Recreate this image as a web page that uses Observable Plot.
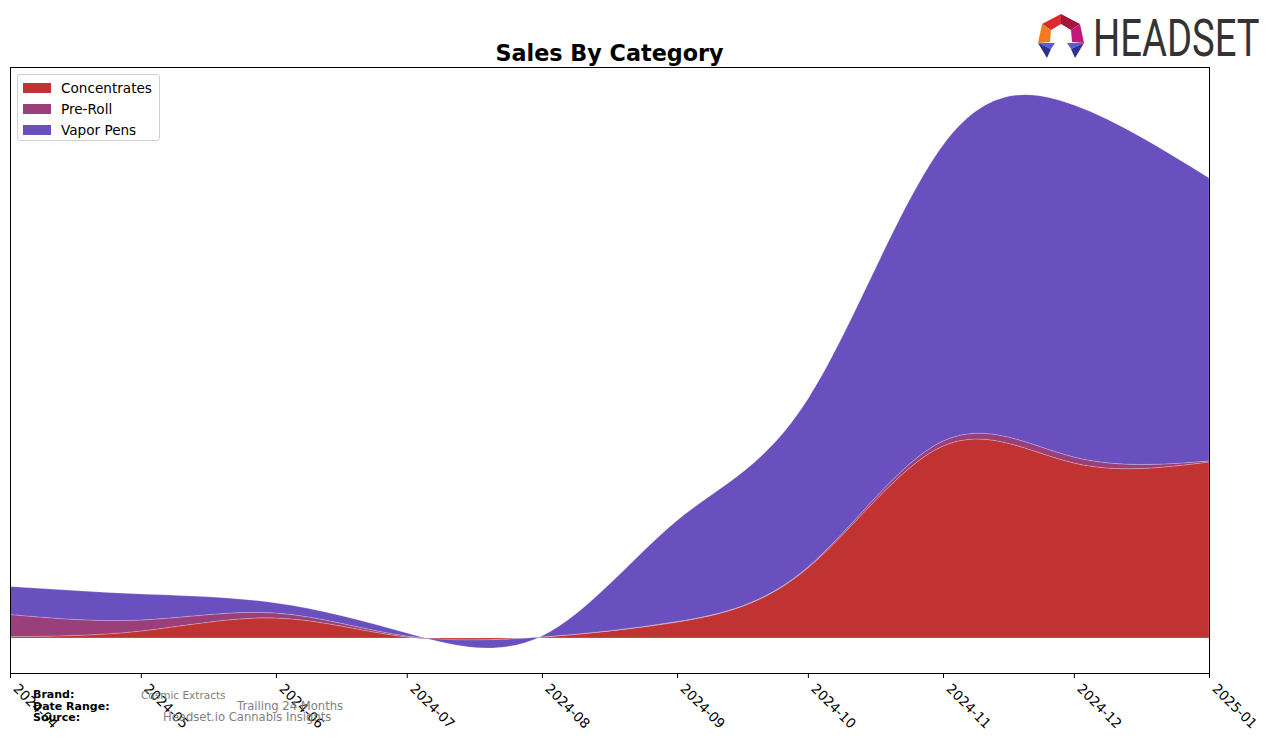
<!DOCTYPE html>
<html>
<head>
<meta charset="utf-8">
<script src="https://cdn.jsdelivr.net/npm/d3@7"></script>
<script src="https://cdn.jsdelivr.net/npm/@observablehq/plot@0.6"></script>
<style>
  html, body { margin: 0; padding: 0; background: #fff; }
  #wrap { position: relative; width: 1276px; height: 743px; font-family: "DejaVu Sans", sans-serif; overflow: hidden; }
  #chart { position: absolute; left: 0; top: 0; }
  .title { position: absolute; left: 0; width: 1219px; top: 40px; text-align: center; font-weight: bold; font-size: 22.3px; line-height: 26px; color: #000; }
  .legend { position: absolute; left: 17px; top: 74px; width: 141px; height: 65px; border: 1px solid #d0d0d0; border-radius: 3px; background: rgba(255,255,255,0.85); }
  .legend .row { position: absolute; left: 5px; height: 16px; font-size: 13.6px; line-height: 16px; color: #000; }
  .legend .sw { position: absolute; left: 0; top: 3px; width: 28px; height: 10px; }
  .legend .lab { position: absolute; left: 38px; top: 0; white-space: nowrap; }
  .foot { position: absolute; font-size: 11px; white-space: nowrap; line-height: 12px; }
  .foot.b { font-weight: bold; color: #000; }
  .foot.v { color: #808080; }
  #logo { position: absolute; left: 1030px; top: 6px; }
</style>
</head>
<body>
<div id="wrap">
  <div id="chart"></div>
  <div class="title">Sales By Category</div>
  <div class="legend" id="legend"></div>
  <div class="foot b" style="left:33px; top:689px;">Brand:</div>
  <div class="foot b" style="left:33px; top:701px;">Date Range:</div>
  <div class="foot b" style="left:33px; top:712px;">Source:</div>
  <div class="foot v" style="left:141px; top:689px; font-size:10.5px;">Cosmic Extracts</div>
  <div class="foot v" style="left:237px; top:700px; font-size:11.6px;">Trailing 24 Months</div>
  <div class="foot v" style="left:163px; top:711px; font-size:11.6px;">Headset.io Cannabis Insights</div>
  <svg id="logo" width="244" height="62" viewBox="1030 6 244 62">
    <polygon points="1042,24 1061,14 1061,24 1051,30" fill="#dc2a2e"/>
    <polygon points="1061,14 1080,24 1071,30 1061,24" fill="#a5163c"/>
    <polygon points="1080,24 1084,43 1072,42 1071,30" fill="#c2177b"/>
    <polygon points="1042,24 1051,30 1050,42 1038,43" fill="#f47c20"/>
    <polygon points="1038,43 1055,43 1051,49" fill="#5a5cd6"/>
    <polygon points="1038,43 1051,49 1047,58" fill="#2e3092"/>
    <polygon points="1067,43 1084,43 1071,49" fill="#5a5cd6"/>
    <polygon points="1084,43 1071,49 1075,58" fill="#2e3092"/>
    <text transform="translate(1093,56) scale(0.735,1)" x="0" y="0" font-family="Roboto, 'Liberation Sans', sans-serif" font-size="52" fill="#333">HEADSET</text>
  </svg>
</div>
<script>
// ---- data ----
const months = ["2024-04","2024-05","2024-06","2024-07","2024-08","2024-09","2024-10","2024-11","2024-12","2025-01"];
const categories = ["Concentrates","Pre-Roll","Vapor Pens"];
const concentrates = [1.5, 7, 20, 1, 1, 16, 70, 192, 175, 176];
const preRoll      = [22, 11, 5, 1, 0, 0.5, 1, 5, 6, 1];
const vaporPens    = [28, 26, 10, 3, 1, 101, 168, 296, 352, 283];
const colors = ["#c13333", "#9a3f79", "#6a4fbe"];

const seriesValues = [concentrates, preRoll, vaporPens];
const rows = [];
months.forEach((m, i) => {
  categories.forEach((c, k) => {
    rows.push({date: new Date(m + "-01T00:00:00Z"), category: c, value: seriesValues[k][i]});
  });
});

const chart = Plot.plot({
  width: 1276,
  height: 743,
  marginLeft: 10,
  marginRight: 67,
  marginTop: 67,
  marginBottom: 70,
  style: {fontFamily: "DejaVu Sans, sans-serif", background: "transparent"},
  x: {type: "utc", domain: [new Date("2024-04-01T00:00:00Z"), new Date("2025-01-01T00:00:00Z")]},
  y: {domain: [-35, 571], axis: null},
  color: {domain: categories, range: colors},
  marks: [
    Plot.areaY(rows, Plot.stackY({order: categories}, {
      x: "date", y: "value", z: "category", fill: "category",
      curve: "natural", stroke: "white", strokeOpacity: 0.3, strokeWidth: 0.7
    })),
    Plot.frame({stroke: "#000", strokeWidth: 1}),
    Plot.axisX({
      ticks: d3.utcMonth.every(1),
      tickFormat: d3.utcFormat("%Y-%m"),
      tickRotate: 45,
      tickSize: 5,
      tickPadding: 3,
      fontSize: 13.5,
      stroke: "#000",
      color: "#000",
      textStroke: "none"
    })
  ]
});
document.getElementById("chart").appendChild(chart);

// shift rotated tick labels so their box starts at the tick (matplotlib-style anchoring)
chart.querySelectorAll('g[aria-label="x-axis tick label"] text').forEach(t => {
  const tr = t.getAttribute("transform") || "";
  t.setAttribute("transform", tr.replace(/translate\(([^,]+),([^)]+)\)/, (m, a, b) => `translate(${+a + 5},${+b + 5})`));
});

// legend
const leg = document.getElementById("legend");
categories.forEach((c, k) => {
  const r = document.createElement("div");
  r.className = "row";
  r.style.top = (5 + k * 21) + "px";
  r.innerHTML = `<span class="sw" style="background:${colors[k]}"></span><span class="lab">${c}</span>`;
  leg.appendChild(r);
});
</script>
</body>
</html>
